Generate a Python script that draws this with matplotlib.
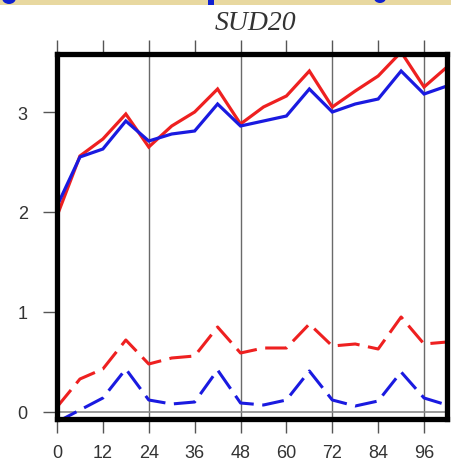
import matplotlib
matplotlib.use("Agg")
import matplotlib.pyplot as plt
from matplotlib.patches import Rectangle, Ellipse

# forecast hours
hours = [0, 6, 12, 18, 24, 30, 36, 42, 48, 54, 60, 66, 72, 78, 84, 90, 96, 102]

# solid series
red_solid = [1.96, 2.56, 2.73, 2.98, 2.65, 2.86, 3.00, 3.23, 2.88, 3.05, 3.16, 3.41,
             3.05, 3.21, 3.36, 3.60, 3.25, 3.45]
blue_solid = [2.06, 2.55, 2.63, 2.91, 2.71, 2.78, 2.81, 3.08, 2.86, 2.91, 2.96, 3.23,
              3.00, 3.08, 3.13, 3.41, 3.18, 3.26]

# dashed series
red_dash = [0.05, 0.33, 0.43, 0.72, 0.48, 0.54, 0.56, 0.85, 0.59, 0.64, 0.64, 0.88,
            0.66, 0.68, 0.63, 0.95, 0.68, 0.70]
blue_dash = [-0.10, 0.02, 0.14, 0.43, 0.12, 0.08, 0.10, 0.42, 0.09, 0.07, 0.12, 0.41,
             0.12, 0.06, 0.11, 0.40, 0.14, 0.07]

xticks = [0, 12, 24, 36, 48, 60, 72, 84, 96]
yticks = [0, 1, 2, 3]
vlines = [24, 48, 72, 96]
title = "SUD20"

W, H = 452, 464
fig = plt.figure(figsize=(W / 100, H / 100), dpi=100)
fig.patch.set_facecolor("white")

# header strip along the top edge
fig.patches.append(Rectangle((0, 1 - 6 / H), 1, 6 / H, transform=fig.transFigure,
                             facecolor="#e8d8a0", edgecolor="none", zorder=0))
fig.patches.append(Ellipse((9 / W, 1 + 1 / H), 14 / W, 12 / H, transform=fig.transFigure,
                           facecolor="#1020d0", edgecolor="none", zorder=1))
fig.patches.append(Rectangle((208 / W, 1 - 6 / H), 6 / W, 6 / H, transform=fig.transFigure,
                             facecolor="#1020d0", edgecolor="none", zorder=1))
fig.patches.append(Ellipse((380 / W, 1 + 1 / H), 12 / W, 10 / H, transform=fig.transFigure,
                           facecolor="#1020d0", edgecolor="none", zorder=1))

ax = fig.add_axes([57 / W, 1 - 420 / H, (447 - 57) / W, (420 - 55) / H])
ax.set_xlim(0, 102)
ax.set_ylim(-0.07, 3.58)

for v in vlines:
    ax.axvline(v, color="#6a6a6a", lw=1.0, zorder=1)
ax.axhline(0, color="#8a8a8a", lw=1.2, zorder=1)

ax.plot(hours, red_solid, color="#ee2020", lw=2.3, zorder=3, solid_joinstyle="miter")
ax.plot(hours, blue_solid, color="#1a1ae0", lw=2.3, zorder=3, solid_joinstyle="miter")
ax.plot(hours, red_dash, color="#ee2020", lw=2.2, zorder=3, dashes=(7.2, 2.8))
ax.plot(hours, blue_dash, color="#1a1ae0", lw=2.2, zorder=3, dashes=(7.2, 2.8))

for s in ax.spines.values():
    s.set_linewidth(3.8)
    s.set_color("black")
    s.set_zorder(4)

ax.set_xticks(xticks)
ax.set_yticks(yticks)
ax.tick_params(axis="x", which="both", top=True, bottom=True, length=10, width=1.0,
               color="#555555", direction="out", pad=8, labelsize=13, labelcolor="#333333")
ax.tick_params(axis="y", which="both", left=True, length=10, width=1.0,
               color="#555555", direction="out", pad=11, labelsize=13, labelcolor="#333333")
for lab in ax.get_xticklabels() + ax.get_yticklabels():
    lab.set_fontfamily("Liberation Sans")

fig.text(255 / W, 1 - 23 / H, title, ha="center", va="center", fontsize=20,
         fontstyle="italic", family="Liberation Serif", color="#333333")

fig.savefig("out.png", dpi=100, facecolor="white")
